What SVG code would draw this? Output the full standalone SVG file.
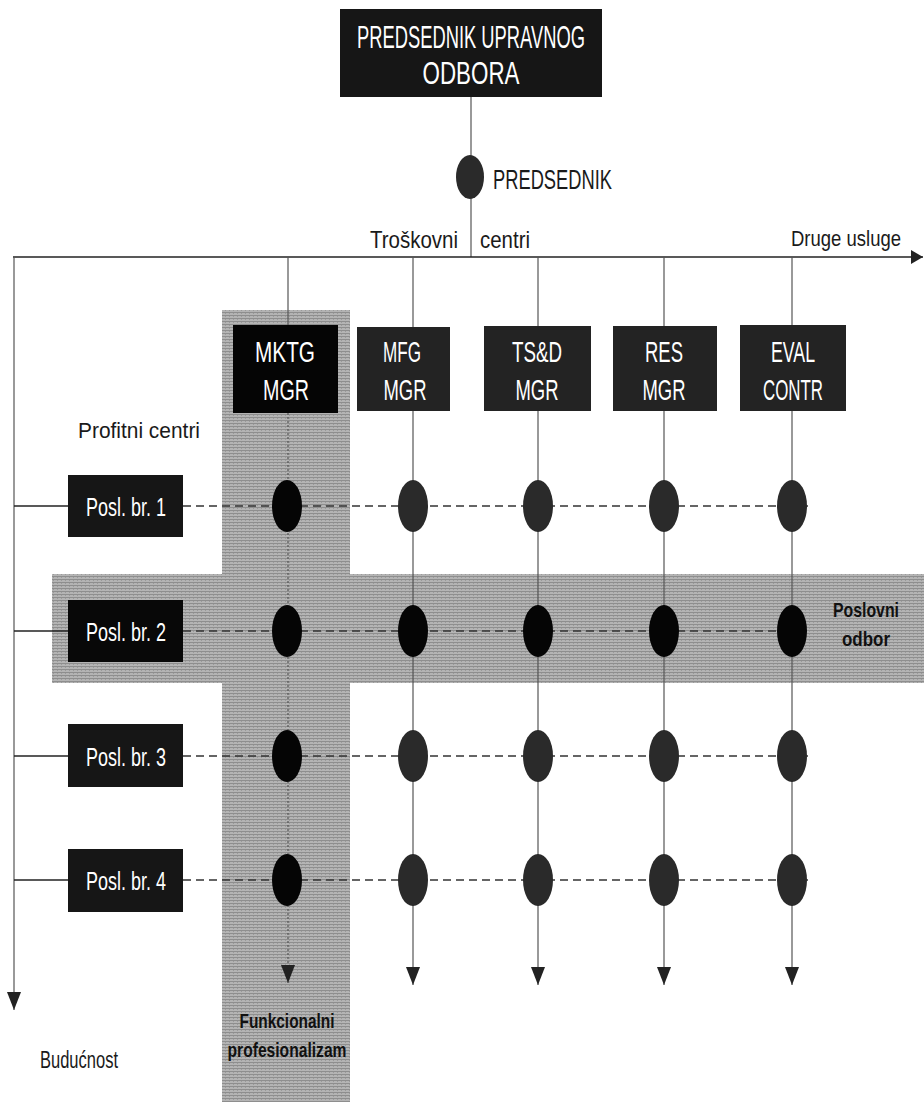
<svg xmlns="http://www.w3.org/2000/svg" width="924" height="1102" viewBox="0 0 924 1102">
<defs>
<pattern id="tex" width="4" height="3" patternUnits="userSpaceOnUse">
<rect width="4" height="3" fill="#b4b4b4"/>
<rect y="0" width="4" height="1" fill="#8e8e8e"/>
<rect x="1" y="1" width="1" height="1" fill="#9a9a9a"/>
</pattern>
<marker id="arr" viewBox="0 0 18 14" refX="18" refY="7" markerWidth="18" markerHeight="14" markerUnits="userSpaceOnUse" orient="auto">
<path d="M0,0 L18,7 L0,14 Z" fill="#222"/>
</marker>
<marker id="arrR" viewBox="0 0 12 14" refX="12" refY="7" markerWidth="12" markerHeight="14" markerUnits="userSpaceOnUse" orient="auto">
<path d="M0,0 L12,7 L0,14 Z" fill="#222"/>
</marker>
</defs>
<style>
text{font-family:"Liberation Sans",Arial,sans-serif}
.wt{fill:#fff;text-anchor:middle}
.bk{fill:#1a1a1a}
.bold{font-weight:bold;fill:#111;text-anchor:middle}
.box{fill:#161616}
.mbox{fill:#232323}
.ln{stroke:#555;stroke-width:1.2;fill:none}
.lnd{stroke:#222;stroke-width:1.3;fill:none}
.dash{stroke:#333;stroke-width:1.3;stroke-dasharray:8 5;fill:none}
.dot{fill:#2a2a2a}
.dotb{fill:#050505}
.band{fill:url(#tex)}
</style>
<rect width="924" height="1102" fill="#fff"/>
<g id="bands">
<rect class="band" x="52" y="574" width="872" height="109"/>
<rect class="band" x="222" y="310" width="128" height="792"/>
</g>
<g id="connectors">
<line class="ln" x1="471" y1="97" x2="471" y2="257"/>
<line class="lnd" x1="13" y1="257" x2="923" y2="257" marker-end="url(#arrR)"/>
<line class="ln" x1="14" y1="257" x2="14" y2="1010" marker-end="url(#arr)"/>
<line class="ln" x1="288" y1="257" x2="288" y2="325"/>
<line class="ln" x1="288" y1="413" x2="288" y2="983" stroke-dasharray="2 2" marker-end="url(#arr)"/>
<line class="ln" x1="413" y1="257" x2="413" y2="985" marker-end="url(#arr)"/>
<line class="ln" x1="538" y1="257" x2="538" y2="985" marker-end="url(#arr)"/>
<line class="ln" x1="664" y1="257" x2="664" y2="985" marker-end="url(#arr)"/>
<line class="ln" x1="792" y1="257" x2="792" y2="985" marker-end="url(#arr)"/>
<line class="lnd" x1="14" y1="506" x2="68" y2="506"/>
<line class="lnd" x1="14" y1="631" x2="68" y2="631"/>
<line class="lnd" x1="14" y1="756" x2="68" y2="756"/>
<line class="lnd" x1="14" y1="880" x2="68" y2="880"/>
<line class="dash" x1="183" y1="506" x2="808" y2="506"/>
<line class="dash" x1="183" y1="631" x2="792" y2="631"/>
<line class="dash" x1="183" y1="756" x2="808" y2="756"/>
<line class="dash" x1="183" y1="880" x2="808" y2="880"/>
</g>
<g id="chair">
<rect class="box" x="340" y="9" width="262" height="88"/>
<text class="wt" x="471" y="48" font-size="32" textLength="228" lengthAdjust="spacingAndGlyphs">PREDSEDNIK UPRAVNOG</text>
<text class="wt" x="471" y="84" font-size="32" textLength="97" lengthAdjust="spacingAndGlyphs">ODBORA</text>
</g>
<g id="president">
<ellipse class="dot" cx="470" cy="177" rx="14" ry="22"/>
<text class="bk" x="493" y="189" font-size="27" textLength="119" lengthAdjust="spacingAndGlyphs">PREDSEDNIK</text>
</g>
<g id="labels-top">
<text class="bk" x="370" y="248" font-size="24" textLength="88" lengthAdjust="spacingAndGlyphs">Troškovni</text>
<text class="bk" x="480" y="248" font-size="24" textLength="50" lengthAdjust="spacingAndGlyphs">centri</text>
<text class="bk" x="791" y="246" font-size="22" textLength="110" lengthAdjust="spacingAndGlyphs">Druge usluge</text>
</g>
<g id="mktg">
<rect fill="#050505" x="233" y="325" width="105" height="88"/>
<text class="wt" x="285" y="362" font-size="29" textLength="60" lengthAdjust="spacingAndGlyphs">MKTG</text>
<text class="wt" x="286" y="400" font-size="29" textLength="46" lengthAdjust="spacingAndGlyphs">MGR</text>
</g>
<g id="mfg">
<rect class="mbox" x="357" y="327" width="93" height="84"/>
<text class="wt" x="402" y="362" font-size="29" textLength="38" lengthAdjust="spacingAndGlyphs">MFG</text>
<text class="wt" x="405" y="400" font-size="29" textLength="43" lengthAdjust="spacingAndGlyphs">MGR</text>
</g>
<g id="tsd">
<rect class="mbox" x="484" y="326" width="107" height="85"/>
<text class="wt" x="537" y="362" font-size="29" textLength="50" lengthAdjust="spacingAndGlyphs">TS&amp;D</text>
<text class="wt" x="537" y="400" font-size="29" textLength="43" lengthAdjust="spacingAndGlyphs">MGR</text>
</g>
<g id="res">
<rect class="mbox" x="613" y="326" width="104" height="85"/>
<text class="wt" x="664" y="362" font-size="29" textLength="38" lengthAdjust="spacingAndGlyphs">RES</text>
<text class="wt" x="664" y="400" font-size="29" textLength="43" lengthAdjust="spacingAndGlyphs">MGR</text>
</g>
<g id="eval">
<rect class="mbox" x="740" y="325" width="106" height="86"/>
<text class="wt" x="793" y="362" font-size="29" textLength="44" lengthAdjust="spacingAndGlyphs">EVAL</text>
<text class="wt" x="793" y="400" font-size="29" textLength="60" lengthAdjust="spacingAndGlyphs">CONTR</text>
</g>
<g id="profit-label">
<text class="bk" x="78" y="438" font-size="22" textLength="122" lengthAdjust="spacingAndGlyphs">Profitni centri</text>
</g>
<g id="posl1">
<rect class="box" x="68" y="475" width="115" height="62"/>
<text class="wt" x="126" y="516" font-size="26" textLength="80" lengthAdjust="spacingAndGlyphs">Posl. br. 1</text>
</g>
<g id="posl2">
<rect fill="#080808" x="68" y="600" width="115" height="62"/>
<text class="wt" x="126" y="641" font-size="26" textLength="80" lengthAdjust="spacingAndGlyphs">Posl. br. 2</text>
</g>
<g id="posl3">
<rect class="box" x="68" y="724" width="115" height="63"/>
<text class="wt" x="126" y="766" font-size="26" textLength="80" lengthAdjust="spacingAndGlyphs">Posl. br. 3</text>
</g>
<g id="posl4">
<rect class="box" x="68" y="849" width="115" height="63"/>
<text class="wt" x="126" y="890" font-size="26" textLength="80" lengthAdjust="spacingAndGlyphs">Posl. br. 4</text>
</g>
<g id="dots">
<ellipse class="dotb" cx="287" cy="506" rx="15" ry="26"/>
<ellipse class="dotb" cx="287" cy="631" rx="15" ry="26"/>
<ellipse class="dotb" cx="287" cy="756" rx="15" ry="26"/>
<ellipse class="dotb" cx="287" cy="880" rx="15" ry="26"/>
<ellipse class="dot" cx="413" cy="506" rx="15" ry="26"/>
<ellipse class="dot" cx="538" cy="506" rx="15" ry="26"/>
<ellipse class="dot" cx="664" cy="506" rx="15" ry="26"/>
<ellipse class="dot" cx="792" cy="506" rx="15" ry="26"/>
<ellipse class="dotb" cx="413" cy="631" rx="15" ry="26"/>
<ellipse class="dotb" cx="538" cy="631" rx="15" ry="26"/>
<ellipse class="dotb" cx="664" cy="631" rx="15" ry="26"/>
<ellipse class="dotb" cx="792" cy="631" rx="15" ry="26"/>
<ellipse class="dot" cx="413" cy="756" rx="15" ry="26"/>
<ellipse class="dot" cx="538" cy="756" rx="15" ry="26"/>
<ellipse class="dot" cx="664" cy="756" rx="15" ry="26"/>
<ellipse class="dot" cx="792" cy="756" rx="15" ry="26"/>
<ellipse class="dot" cx="413" cy="880" rx="15" ry="26"/>
<ellipse class="dot" cx="538" cy="880" rx="15" ry="26"/>
<ellipse class="dot" cx="664" cy="880" rx="15" ry="26"/>
<ellipse class="dot" cx="792" cy="880" rx="15" ry="26"/>
</g>
<g id="board-label">
<text class="bold" x="866" y="617" font-size="21" textLength="66" lengthAdjust="spacingAndGlyphs">Poslovni</text>
<text class="bold" x="866" y="646" font-size="21" textLength="48" lengthAdjust="spacingAndGlyphs">odbor</text>
</g>
<g id="func-label">
<text class="bold" x="287" y="1028" font-size="21" textLength="95" lengthAdjust="spacingAndGlyphs">Funkcionalni</text>
<text class="bold" x="287" y="1057" font-size="21" textLength="119" lengthAdjust="spacingAndGlyphs">profesionalizam</text>
</g>
<g id="future-label">
<text class="bk" x="40" y="1068" font-size="23" textLength="78" lengthAdjust="spacingAndGlyphs">Budućnost</text>
</g>
</svg>
